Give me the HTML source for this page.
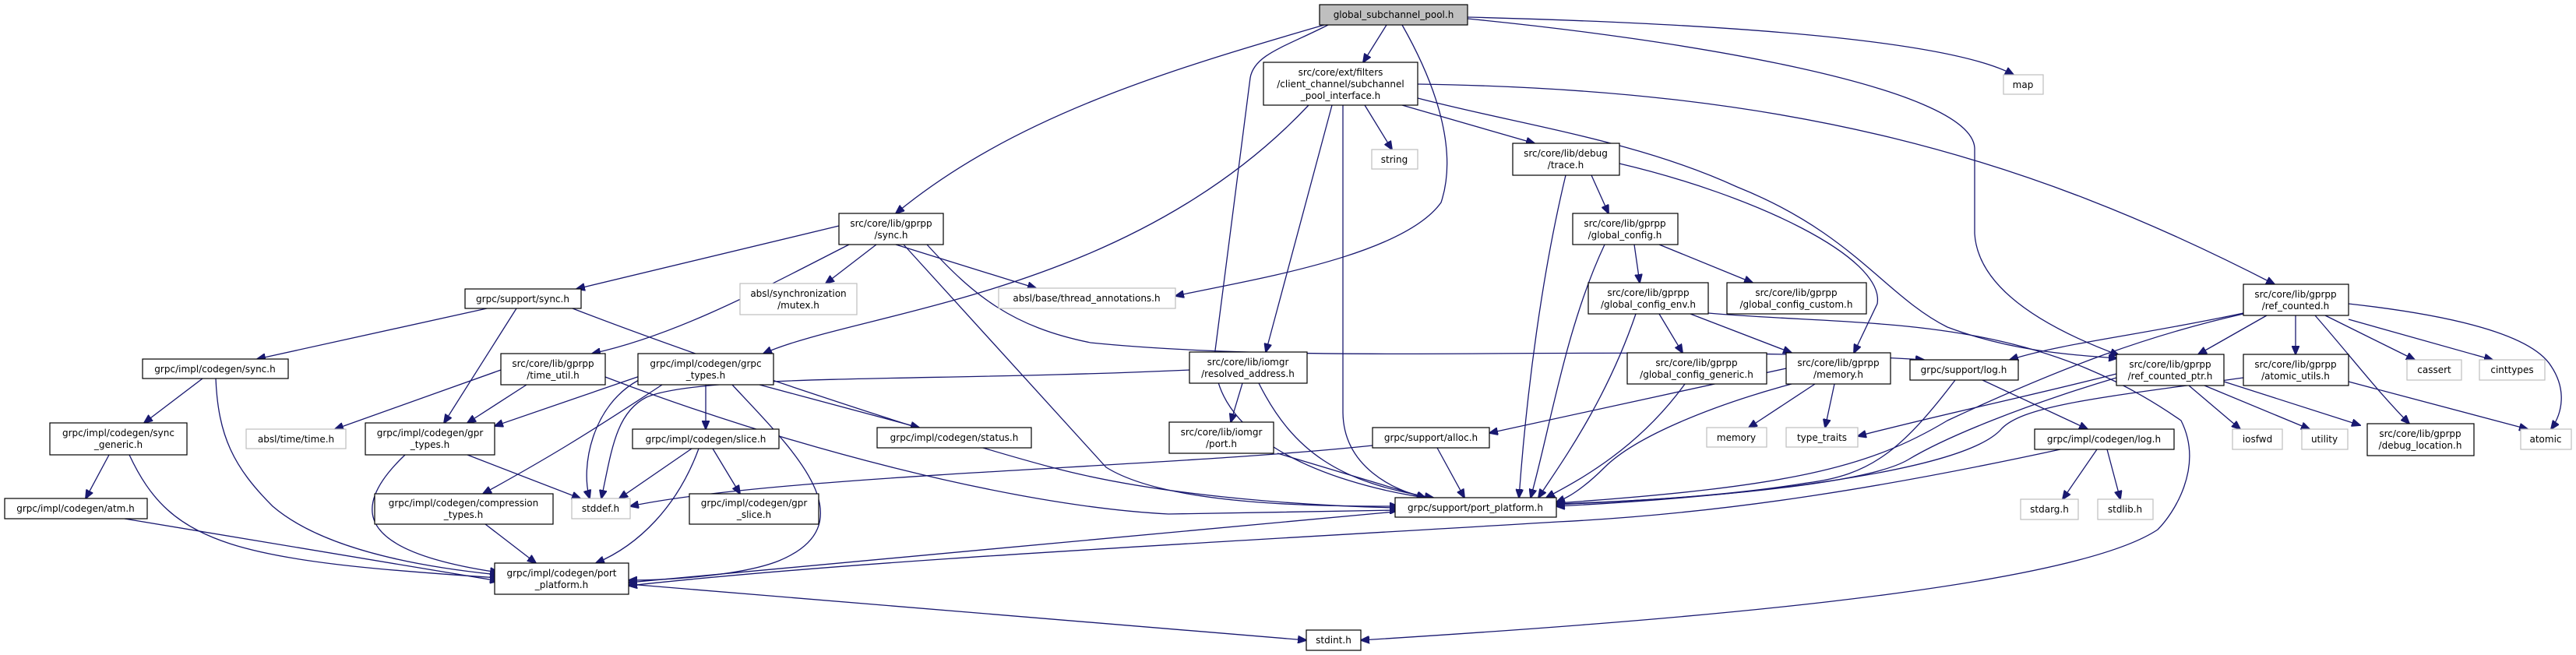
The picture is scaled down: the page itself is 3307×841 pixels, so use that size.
<!DOCTYPE html>
<html><head><meta charset="utf-8"><style>
html,body{margin:0;padding:0;background:#fff;}
svg{display:block;}
text{font-family:"DejaVu Sans","Liberation Sans",sans-serif;font-size:12px;fill:#000;}
.n{fill:#fff;stroke:#000;stroke-width:1.2;}
.g{fill:#fff;stroke:#bfbfbf;stroke-width:1.2;}
.e{fill:none;stroke:#191970;stroke-width:1.3;}
</style></head><body>
<svg width="3307" height="841" viewBox="0 0 3307 841" xmlns="http://www.w3.org/2000/svg">
<defs><marker id="a" markerUnits="userSpaceOnUse" markerWidth="12" markerHeight="10" refX="11" refY="5" orient="auto"><path d="M0,0 L12,5 L0,10 z" fill="#191970" stroke="#191970"/></marker></defs>
<g marker-end="url(#a)">
<path class="e" d="M1700,32 C1500,90 1300,150 1150,274"/>
<path class="e" d="M1780,32 L1750,80"/>
<path class="e" d="M1800,32 C1850,120 1870,200 1850,260 C1800,330 1600,360 1509,380"/>
<path class="e" d="M1705,32 C1650,60 1610,70 1605,100 L1560,450 C1550,560 1700,620 1830,639"/>
<path class="e" d="M1884,22 C2200,30 2500,50 2585,96"/>
<path class="e" d="M1884,24 C2150,50 2530,110 2535,190 L2535,300 C2540,380 2650,430 2720,456"/>
<path class="e" d="M1680,135 C1450,380 1100,400 980,454"/>
<path class="e" d="M1710,135 L1625,452"/>
<path class="e" d="M1724,135 L1724,530 C1725,600 1790,630 1830,639"/>
<path class="e" d="M1752,135 L1787,192"/>
<path class="e" d="M1800,135 L1970,184"/>
<path class="e" d="M1820,108 C2300,115 2600,200 2920,365"/>
<path class="e" d="M1820,126 C1950,160 2100,180 2230,240 C2380,300 2420,380 2500,420 C2580,450 2650,455 2718,460"/>
<path class="e" d="M2043,225 L2065,274"/>
<path class="e" d="M2010,225 C1980,350 1960,500 1950,639"/>
<path class="e" d="M2079,210 C2250,250 2420,330 2410,390 L2380,453"/>
<path class="e" d="M2098,314 L2105,363"/>
<path class="e" d="M2130,314 L2250,363"/>
<path class="e" d="M2060,314 C2010,420 1990,550 1965,639"/>
<path class="e" d="M2130,403 L2160,453"/>
<path class="e" d="M2170,403 L2300,453"/>
<path class="e" d="M2100,403 C2060,520 2000,600 1975,639"/>
<path class="e" d="M2193,402 C2400,420 2600,400 2800,540 C2830,600 2790,660 2770,680 C2650,760 2100,800 1747,822"/>
<path class="e" d="M2163,493 C2100,580 2020,620 1985,639"/>
<path class="e" d="M2293,473 L1912,556"/>
<path class="e" d="M2300,493 C2200,520 2100,560 2060,600 C2030,630 2010,640 1998,645"/>
<path class="e" d="M2330,493 L2245,549"/>
<path class="e" d="M2355,493 L2343,549"/>
<path class="e" d="M1077,290 L740,371"/>
<path class="e" d="M1090,314 C980,370 870,430 760,454"/>
<path class="e" d="M1125,314 L1060,364"/>
<path class="e" d="M1150,314 L1330,370"/>
<path class="e" d="M1160,314 L1420,600 C1500,650 1700,650 1795,650"/>
<path class="e" d="M1190,314 C1250,380 1300,420 1400,440 C1700,470 2100,440 2470,462"/>
<path class="e" d="M625,396 L330,461"/>
<path class="e" d="M663,396 L570,543"/>
<path class="e" d="M735,396 C900,460 1200,560 1350,600 C1500,640 1700,650 1795,652"/>
<path class="e" d="M260,486 L185,543"/>
<path class="e" d="M277,486 C280,560 300,600 350,650 C420,710 560,730 640,738"/>
<path class="e" d="M140,584 L110,640"/>
<path class="e" d="M166,584 C220,700 300,720 640,742"/>
<path class="e" d="M160,666 L640,746"/>
<path class="e" d="M643,475 L430,551"/>
<path class="e" d="M676,494 L600,543"/>
<path class="e" d="M777,484 C1000,570 1300,650 1500,660 L1795,655"/>
<path class="e" d="M830,480 L635,547"/>
<path class="e" d="M820,488 C760,520 745,600 757,640"/>
<path class="e" d="M850,494 C750,560 700,590 620,634"/>
<path class="e" d="M906,494 L906,551"/>
<path class="e" d="M940,494 C1010,570 1120,670 1000,720 C950,740 850,745 807,745"/>
<path class="e" d="M975,494 L1180,549"/>
<path class="e" d="M1595,492 L1580,542"/>
<path class="e" d="M1616,492 C1660,580 1720,620 1840,639"/>
<path class="e" d="M1527,475 C1200,490 900,480 830,510 C790,530 785,580 772,640"/>
<path class="e" d="M1640,582 L1830,639"/>
<path class="e" d="M1845,575 L1880,639"/>
<path class="e" d="M1762,572 C1500,600 1000,610 809,650"/>
<path class="e" d="M888,576 L795,640"/>
<path class="e" d="M915,576 L950,634"/>
<path class="e" d="M897,576 C870,650 820,700 765,723"/>
<path class="e" d="M623,673 L688,723"/>
<path class="e" d="M520,584 C440,660 470,710 640,735"/>
<path class="e" d="M600,584 L745,640"/>
<path class="e" d="M1791,657 L807,748"/>
<path class="e" d="M807,750 L1677,822"/>
<path class="e" d="M2545,488 L2680,551"/>
<path class="e" d="M2510,488 C2440,580 2400,610 2320,620 C2200,640 2050,645 1998,648"/>
<path class="e" d="M2692,577 L2648,641"/>
<path class="e" d="M2705,577 L2722,641"/>
<path class="e" d="M2645,577 C2400,630 2200,660 2000,670 C1500,700 1100,720 807,752"/>
<path class="e" d="M2880,402 C2750,430 2650,440 2580,462"/>
<path class="e" d="M2910,405 L2822,455"/>
<path class="e" d="M2947,405 L2947,455"/>
<path class="e" d="M2985,405 L3100,462"/>
<path class="e" d="M3015,410 L3200,462"/>
<path class="e" d="M3015,390 C3150,405 3250,430 3275,470 C3295,500 3290,530 3275,551"/>
<path class="e" d="M2972,405 C3020,460 3050,500 3093,544"/>
<path class="e" d="M2880,403 C2760,430 2650,470 2500,540 C2400,600 2300,625 1998,646"/>
<path class="e" d="M2810,495 L2876,551"/>
<path class="e" d="M2830,495 L2965,551"/>
<path class="e" d="M2855,490 L3030,546"/>
<path class="e" d="M2717,480 C2600,510 2500,530 2385,560"/>
<path class="e" d="M2717,485 C2600,520 2500,560 2450,590 C2400,620 2200,640 1998,647"/>
<path class="e" d="M3015,490 L3245,551"/>
<path class="e" d="M2880,485 C2700,510 2600,520 2570,550 C2520,610 2200,640 1998,650"/>
</g>
<g text-anchor="middle">
<rect x="1694" y="6" width="190" height="26" fill="#bfbfbf" stroke="#000" stroke-width="1.2"/><text x="1789" y="23">global_subchannel_pool.h</text>
<rect class="n" x="1622" y="80" width="198" height="55"/><text x="1721" y="97">src/core/ext/filters</text><text x="1721" y="112">/client_channel/subchannel</text><text x="1721" y="127">_pool_interface.h</text>
<rect class="g" x="2572" y="96" width="51" height="25"/><text x="2597" y="113">map</text>
<rect class="g" x="1761" y="192" width="59" height="25"/><text x="1790" y="209">string</text>
<rect class="n" x="1942" y="184" width="137" height="41"/><text x="2010" y="201">src/core/lib/debug</text><text x="2010" y="216">/trace.h</text>
<rect class="n" x="1077" y="274" width="134" height="40"/><text x="1144" y="291">src/core/lib/gprpp</text><text x="1144" y="306">/sync.h</text>
<rect class="n" x="2019" y="274" width="135" height="40"/><text x="2086" y="291">src/core/lib/gprpp</text><text x="2086" y="306">/global_config.h</text>
<rect class="n" x="597" y="371" width="149" height="25"/><text x="671" y="388">grpc/support/sync.h</text>
<rect class="g" x="950" y="364" width="150" height="40"/><text x="1025" y="381">absl/synchronization</text><text x="1025" y="396">/mutex.h</text>
<rect class="g" x="1282" y="370" width="227" height="26"/><text x="1395" y="387">absl/base/thread_annotations.h</text>
<rect class="n" x="2039" y="363" width="154" height="40"/><text x="2116" y="380">src/core/lib/gprpp</text><text x="2116" y="395">/global_config_env.h</text>
<rect class="n" x="2217" y="363" width="179" height="40"/><text x="2306" y="380">src/core/lib/gprpp</text><text x="2306" y="395">/global_config_custom.h</text>
<rect class="n" x="2880" y="365" width="135" height="40"/><text x="2947" y="382">src/core/lib/gprpp</text><text x="2947" y="397">/ref_counted.h</text>
<rect class="n" x="183" y="461" width="187" height="25"/><text x="276" y="478">grpc/impl/codegen/sync.h</text>
<rect class="n" x="643" y="454" width="134" height="40"/><text x="710" y="471">src/core/lib/gprpp</text><text x="710" y="486">/time_util.h</text>
<rect class="n" x="819" y="454" width="174" height="40"/><text x="906" y="471">grpc/impl/codegen/grpc</text><text x="906" y="486">_types.h</text>
<rect class="n" x="1527" y="452" width="151" height="40"/><text x="1602" y="469">src/core/lib/iomgr</text><text x="1602" y="484">/resolved_address.h</text>
<rect class="n" x="2089" y="453" width="179" height="40"/><text x="2178" y="470">src/core/lib/gprpp</text><text x="2178" y="485">/global_config_generic.h</text>
<rect class="n" x="2293" y="453" width="134" height="40"/><text x="2360" y="470">src/core/lib/gprpp</text><text x="2360" y="485">/memory.h</text>
<rect class="n" x="2452" y="462" width="139" height="26"/><text x="2521" y="479">grpc/support/log.h</text>
<rect class="n" x="2717" y="455" width="138" height="40"/><text x="2786" y="472">src/core/lib/gprpp</text><text x="2786" y="487">/ref_counted_ptr.h</text>
<rect class="n" x="2880" y="455" width="135" height="40"/><text x="2947" y="472">src/core/lib/gprpp</text><text x="2947" y="487">/atomic_utils.h</text>
<rect class="g" x="3090" y="462" width="70" height="26"/><text x="3125" y="479">cassert</text>
<rect class="g" x="3183" y="462" width="84" height="26"/><text x="3225" y="479">cinttypes</text>
<rect class="n" x="64" y="543" width="176" height="41"/><text x="152" y="560">grpc/impl/codegen/sync</text><text x="152" y="575">_generic.h</text>
<rect class="g" x="316" y="551" width="128" height="25"/><text x="380" y="568">absl/time/time.h</text>
<rect class="n" x="469" y="543" width="166" height="41"/><text x="552" y="560">grpc/impl/codegen/gpr</text><text x="552" y="575">_types.h</text>
<rect class="n" x="812" y="551" width="188" height="25"/><text x="906" y="568">grpc/impl/codegen/slice.h</text>
<rect class="n" x="1126" y="549" width="198" height="26"/><text x="1225" y="566">grpc/impl/codegen/status.h</text>
<rect class="n" x="1501" y="542" width="134" height="40"/><text x="1568" y="559">src/core/lib/iomgr</text><text x="1568" y="574">/port.h</text>
<rect class="n" x="1762" y="549" width="150" height="26"/><text x="1837" y="566">grpc/support/alloc.h</text>
<rect class="g" x="2191" y="549" width="77" height="25"/><text x="2229" y="566">memory</text>
<rect class="g" x="2293" y="549" width="92" height="25"/><text x="2339" y="566">type_traits</text>
<rect class="n" x="2612" y="551" width="179" height="26"/><text x="2701" y="568">grpc/impl/codegen/log.h</text>
<rect class="g" x="2866" y="551" width="64" height="26"/><text x="2898" y="568">iosfwd</text>
<rect class="g" x="2955" y="551" width="59" height="26"/><text x="2984" y="568">utility</text>
<rect class="n" x="3039" y="544" width="137" height="41"/><text x="3107" y="561">src/core/lib/gprpp</text><text x="3107" y="576">/debug_location.h</text>
<rect class="g" x="3236" y="551" width="65" height="26"/><text x="3268" y="568">atomic</text>
<rect class="n" x="6" y="640" width="183" height="26"/><text x="97" y="657">grpc/impl/codegen/atm.h</text>
<rect class="n" x="481" y="634" width="229" height="39"/><text x="595" y="650">grpc/impl/codegen/compression</text><text x="595" y="665">_types.h</text>
<rect class="g" x="734" y="640" width="75" height="26"/><text x="771" y="657">stddef.h</text>
<rect class="n" x="885" y="634" width="166" height="39"/><text x="968" y="650">grpc/impl/codegen/gpr</text><text x="968" y="665">_slice.h</text>
<rect class="n" x="1791" y="639" width="207" height="25"/><text x="1894" y="656">grpc/support/port_platform.h</text>
<rect class="g" x="2594" y="641" width="74" height="26"/><text x="2631" y="658">stdarg.h</text>
<rect class="g" x="2693" y="641" width="71" height="26"/><text x="2728" y="658">stdlib.h</text>
<rect class="n" x="635" y="723" width="172" height="40"/><text x="721" y="740">grpc/impl/codegen/port</text><text x="721" y="755">_platform.h</text>
<rect class="n" x="1677" y="809" width="70" height="26"/><text x="1712" y="826">stdint.h</text>
</g>
</svg>
</body></html>
